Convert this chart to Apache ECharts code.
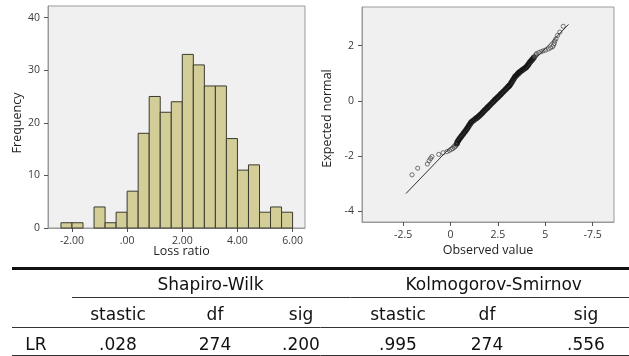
<!DOCTYPE html>
<html>
<head>
<meta charset="utf-8">
<title>Loss ratio normality</title>
<script src="https://cdn.jsdelivr.net/npm/echarts@6/dist/echarts.min.js"></script>
<style>
  html, body { margin: 0; padding: 0; background: #fff; }
  #chart { width: 629px; height: 356px; }
</style>
</head>
<body>
<div id="chart"></div>
<script>
// histogram: bin edges (width 0.4) and frequencies
const binEdges = [-2.4, -2.0, -1.6, -1.2, -0.8, -0.4, 0, 0.4, 0.8, 1.2, 1.6, 2.0, 2.4, 2.8, 3.2, 3.6, 4.0, 4.4, 4.8, 5.2, 5.6, 6.0]
const binCounts = [1, 1, 0, 4, 1, 3, 7, 18, 25, 22, 24, 33, 31, 27, 27, 17, 11, 12, 3, 4, 3]
const histXTicks = [-2, 0, 2, 4, 6]
const histXLabels = ['-2.00', '.00', '2.00', '4.00', '6.00']
const histYTicks = [0, 10, 20, 30, 40]

const qqObserved = [
  -2.03, -1.73, -1.22, -1.13, -1.05, -0.98, -0.62, -0.39, -0.18, -0.06, 0.04, 0.12, 0.20, 0.26, 0.31, 0.34,
  0.36, 0.40, 0.45, 0.50, 0.56, 0.61, 0.67, 0.72, 0.78, 0.83, 0.88, 0.93, 0.97, 1.02, 1.07, 1.11,
  1.19, 1.27, 1.34, 1.40, 1.46, 1.52, 1.58, 1.64, 1.70, 1.75, 1.81, 1.87, 1.93, 1.98, 2.04, 2.10,
  2.17, 2.23, 2.29, 2.34, 2.40, 2.46, 2.51, 2.57, 2.63, 2.68, 2.74, 2.80, 2.87, 2.93, 2.99, 3.04,
  3.09, 3.13, 3.18, 3.22, 3.27, 3.31, 3.36, 3.40, 3.46, 3.52, 3.57, 3.62, 3.66, 3.72, 3.78, 3.84,
  3.90, 3.96, 4.01, 4.07, 4.12, 4.17, 4.23, 4.28, 4.34, 4.40, 4.46, 4.51, 4.54,
  4.66, 4.78, 4.89, 5.02, 5.16, 5.28, 5.39, 5.44, 5.48, 5.51, 5.57, 5.65, 5.77, 5.95
]
const qqExpected = [
  -2.68, -2.44, -2.29, -2.17, -2.09, -2.02, -1.94, -1.88, -1.84, -1.80, -1.76, -1.73, -1.69, -1.65, -1.60, -1.55,
  -1.50, -1.45, -1.40, -1.35, -1.30, -1.25, -1.20, -1.15, -1.10, -1.05, -1.00, -0.95, -0.90, -0.85, -0.80, -0.76,
  -0.72, -0.68, -0.64, -0.61, -0.58, -0.54, -0.50, -0.46, -0.42, -0.38, -0.34, -0.30, -0.26, -0.22, -0.18, -0.14,
  -0.09, -0.05, -0.01, 0.03, 0.07, 0.11, 0.14, 0.18, 0.22, 0.26, 0.30, 0.34, 0.39, 0.43, 0.47, 0.51,
  0.54, 0.57, 0.62, 0.67, 0.72, 0.77, 0.82, 0.87, 0.91, 0.95, 0.99, 1.02, 1.05, 1.08, 1.11, 1.14,
  1.17, 1.20, 1.23, 1.28, 1.33, 1.38, 1.43, 1.47, 1.52, 1.57, 1.62, 1.67, 1.71,
  1.75, 1.78, 1.81, 1.84, 1.88, 1.92, 1.96, 2.02, 2.08, 2.17, 2.25, 2.37, 2.49, 2.70
]
// reference line end points [observed, expected]
const qqLine = [[-2.35, -3.36], [6.23, 2.77]]
const qqXTicks = [-2.5, 0, 2.5, 5, 7.5]
const qqXLabels = ['-2.5', '0', '2.5', '5', '-7.5']
const qqYTicks = [-4, -2, 0, 2]

// test table
const testNames = ['Shapiro-Wilk', 'Kolmogorov-Smirnov']
const testColumns = ['stastic', 'df', 'sig', 'stastic', 'df', 'sig']
const rowLabel = 'LR'
const rowValues = ['.028', '274', '.200', '.995', '274', '.556']

const chart = echarts.init(document.getElementById('chart'))

const tickFont = { fontFamily: 'Open Sans', fontSize: 10.5, color: '#3a3a3a' }
const plotBg = '#f0f0f0'
const frameColor = '#9a9a9a'

// helper for SPSS-like value axes
function valueAxis(gridIndex, min, max, ticks, labels, extra) {
  return Object.assign({
    type: 'value',
    gridIndex: gridIndex,
    min: min,
    max: max,
    splitLine: { show: false },
    axisLine: { show: true, onZero: false, lineStyle: { color: frameColor } },
    axisTick: { show: true, customValues: ticks, length: 4, lineStyle: { color: '#555' } },
    axisLabel: Object.assign({
      customValues: ticks,
      formatter: (v) => {
        const i = ticks.indexOf(v)
        return labels ? labels[i] : String(v)
      }
    }, tickFont),
    nameLocation: 'middle',
    nameMoveOverlap: false,
    nameTextStyle: { fontFamily: 'Open Sans', fontSize: 12.5, color: '#222' }
  }, extra)
}

// table drawn as graphic elements
const tableFont = '17px "DejaVu Sans"'
const colX = [118, 215, 301, 398, 487, 586]
const groupX = [210.5, 493.7]
const graphics = [
  { type: 'line', shape: { x1: 12, y1: 268.5, x2: 629, y2: 268.5 }, style: { stroke: '#111', lineWidth: 3 } },
  { type: 'line', shape: { x1: 72, y1: 297.5, x2: 629, y2: 297.5 }, style: { stroke: '#333', lineWidth: 1 } },
  { type: 'line', shape: { x1: 12, y1: 327.5, x2: 629, y2: 327.5 }, style: { stroke: '#333', lineWidth: 1 } },
  { type: 'line', shape: { x1: 12, y1: 355.5, x2: 629, y2: 355.5 }, style: { stroke: '#333', lineWidth: 1 } },
  { type: 'text', x: 36, y: 346, style: { text: rowLabel, font: tableFont, fill: '#111', align: 'center', verticalAlign: 'middle' } }
]
testNames.forEach((name, i) => {
  graphics.push({ type: 'text', x: groupX[i], y: 285.5, style: { text: name, font: tableFont, fill: '#111', align: 'center', verticalAlign: 'middle' } })
})
testColumns.forEach((col, i) => {
  graphics.push({ type: 'text', x: colX[i], y: 316, style: { text: col, font: tableFont, fill: '#111', align: 'center', verticalAlign: 'middle' } })
  graphics.push({ type: 'text', x: colX[i], y: 346, style: { text: rowValues[i], font: tableFont, fill: '#111', align: 'center', verticalAlign: 'middle' } })
})

const histData = binCounts.map((c, i) => [binEdges[i], binEdges[i + 1], c])
// points in the dense middle overlap into a solid band, so stroke them heavier
const qqData = qqObserved.map((x, i) => {
  const y = qqExpected[i]
  const dense = y > -1.56 && y < 1.62
  return {
    value: [x, y],
    itemStyle: dense ? { borderWidth: 1.6, borderColor: '#111' } : undefined
  }
})

const option = {
  animation: false,
  backgroundColor: '#fff',
  grid: [
    { left: 48, top: 6, width: 257, height: 222, show: true, backgroundColor: plotBg, borderColor: frameColor, borderWidth: 1, outerBoundsMode: 'none' },
    { left: 362, top: 7, width: 252, height: 215, show: true, backgroundColor: plotBg, borderColor: frameColor, borderWidth: 1, outerBoundsMode: 'none' }
  ],
  xAxis: [
    valueAxis(0, -2.87, 6.45, histXTicks, histXLabels, { name: 'Loss ratio', nameGap: 17 }),
    valueAxis(1, -4.67, 8.63, qqXTicks, qqXLabels, { name: 'Observed value', nameGap: 22 })
  ],
  yAxis: [
    valueAxis(0, 0, 42.2, histYTicks, null, { name: 'Frequency', nameGap: 24 }),
    valueAxis(1, -4.39, 3.40, qqYTicks, null, { name: 'Expected normal', nameGap: 28 })
  ],
  series: [
    {
      name: 'Frequency',
      type: 'custom',
      xAxisIndex: 0,
      yAxisIndex: 0,
      data: histData,
      encode: { x: [0, 1], y: 2 },
      renderItem: (params, api) => {
        if (!api.value(2)) return null
        const p0 = api.coord([api.value(0), 0])
        const p1 = api.coord([api.value(1), api.value(2)])
        return {
          type: 'rect',
          shape: { x: p0[0], y: p1[1], width: p1[0] - p0[0], height: p0[1] - p1[1] },
          style: { fill: '#d3ce97', stroke: '#3a3a30', lineWidth: 1 }
        }
      }
    },
    {
      name: 'Normal line',
      type: 'line',
      xAxisIndex: 1,
      yAxisIndex: 1,
      data: qqLine,
      showSymbol: false,
      lineStyle: { color: '#333', width: 1 }
    },
    {
      name: 'Observed',
      type: 'scatter',
      xAxisIndex: 1,
      yAxisIndex: 1,
      data: qqData,
      symbol: 'circle',
      symbolSize: 4.2,
      itemStyle: { color: 'transparent', borderColor: '#444', borderWidth: 0.9 }
    }
  ],
  graphic: graphics
}

// shift the off-centre axis titles a little, as in the picture
option.xAxis[0].nameTextStyle.padding = [0, 0, 0, 10]
option.yAxis[0].nameTextStyle.padding = [0, 12, 0, 0]
option.yAxis[1].nameTextStyle.padding = [0, 8, 0, 0]

chart.setOption(option)
</script>
</body>
</html>
